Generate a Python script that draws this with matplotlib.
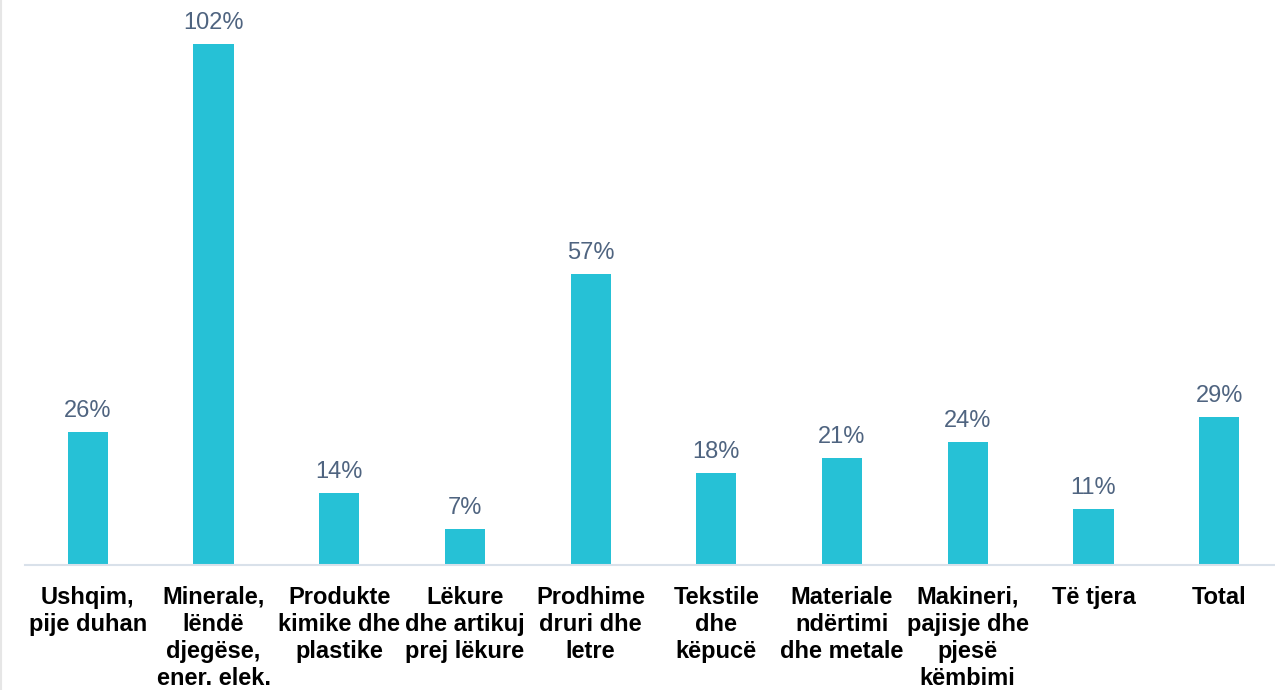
import matplotlib.pyplot as plt
from matplotlib.lines import Line2D

plt.rcParams['font.family'] = ['Liberation Sans', 'DejaVu Sans']

kategorite = ["Ushqim,\npije duhan", "Minerale,\nlëndë\ndjegëse,\nener. elek.",
              "Produkte\nkimike dhe\nplastike", "Lëkure\ndhe artikuj\nprej lëkure",
              "Prodhime\ndruri dhe\nletre", "Tekstile\ndhe\nkëpucë",
              "Materiale\nndërtimi\ndhe metale", "Makineri,\npajisje dhe\npjesë\nkëmbimi",
              "Të tjera", "Total"]
vlerat = [26, 102, 14, 7, 57, 18, 21, 24, 11, 29]

fig = plt.figure(figsize=(12.75, 6.9), dpi=100)
ax = fig.add_axes([25/1275, 125/690, 1257/1275, 565/690])

x = range(len(vlerat))
bars = ax.bar(x, vlerat, width=0.32, color='#26C1D6', zorder=2)
for b, v in zip(bars, vlerat):
    ax.annotate(f"{v}%", (b.get_x() + b.get_width()/2, v), xytext=(0, 10),
                textcoords='offset pixels', ha='center', va='bottom',
                fontsize=17, color='#4F6480')

ax.set_xlim(-0.5, len(vlerat) - 0.5)
ax.set_ylim(0, 110.6)
ax.set_yticks([])
ax.set_xticks(list(x))
ax.set_xticklabels(kategorite, fontsize=17, fontweight='bold', linespacing=1.22)
ax.tick_params(axis='x', length=0, pad=15)
for s in ['top', 'right', 'left']:
    ax.spines[s].set_visible(False)
ax.spines['bottom'].set_color('#D9E1EA')
ax.spines['bottom'].set_linewidth(1.5)

fig.add_artist(Line2D([1/1275, 1/1275], [0, 1], color='#E6E6E6', lw=1.5))

fig.savefig('out.png', dpi=100)
